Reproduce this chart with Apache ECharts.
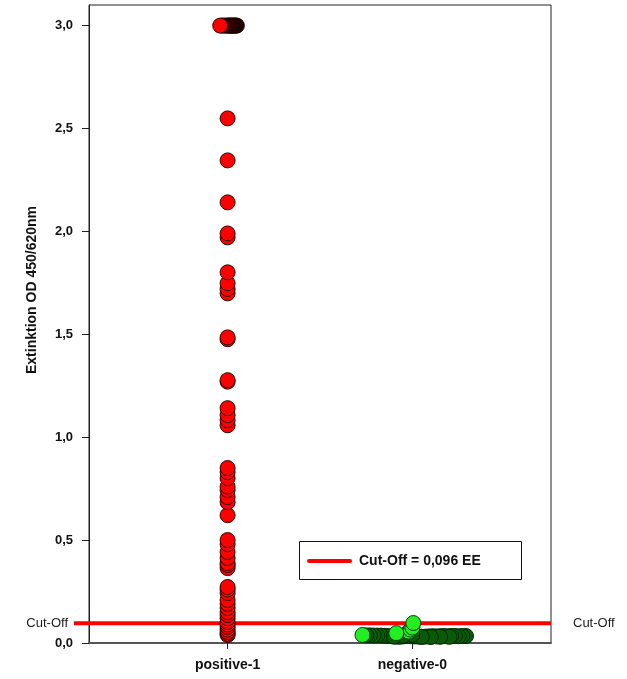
<!DOCTYPE html>
<html>
<head>
<meta charset="utf-8">
<script src="https://cdn.jsdelivr.net/npm/echarts@6/dist/echarts.min.js"></script>
<style>html,body{margin:0;padding:0;background:#fff}#c{width:627px;height:679px}</style>
</head>
<body>
<div id="c"></div>
<script>
// ---- data ----
const categories = ['positive-1', 'negative-0'];
const categoryX = [0, 1];
const yTicks = [0, 0.5, 1.0, 1.5, 2.0, 2.5, 3.0];
const cutOff = 0.096;

// positive group, single column
const positiveValues = [2.549, 2.345, 2.141, 1.990, 1.971, 1.801, 1.748, 1.720, 1.699, 1.485, 1.476,
  1.277, 1.270, 1.141, 1.107, 1.083, 1.058, 0.850, 0.830, 0.801, 0.760, 0.743, 0.709, 0.684, 0.621,
  0.500, 0.480, 0.442, 0.413, 0.388, 0.379, 0.364, 0.272, 0.260, 0.243, 0.209, 0.190, 0.170, 0.150,
  0.136, 0.120, 0.102, 0.090, 0.078, 0.065, 0.053, 0.045, 0.039];
// positive values saturated at 3,0 (stacked, offset sideways)
const positiveTopX = [0.05, 0.045, 0.04, 0.035, 0.03, 0.025, 0.02, 0.015, 0.01, 0.005, 0.0, -0.01, -0.02, -0.03];
const positiveTopValues = [3.0, 3.0, 3.0, 3.0, 3.0, 3.0, 3.0, 3.0, 3.0, 3.0, 3.0, 3.0, 3.0, 3.0];
const positiveFront = [[-0.04, 3.0]];

// negative group (dense band, offsets sideways)
const negativeX = [0.29, 0.27, 0.25, 0.23, 0.21, 0.19, 0.17, 0.15, 0.13, 0.11, 0.09, 0.07, 0.05, 0.03,
  0.01, -0.01, -0.03, -0.05, -0.07, -0.09, -0.11, -0.13, -0.15, -0.17, -0.19, -0.21, -0.23, -0.25,
  0.2, 0.15, 0.1, 0.05, 0.0, -0.05, -0.1];
const negativeValues = [0.034, 0.034, 0.033, 0.034, 0.034, 0.033, 0.034, 0.033, 0.032, 0.033, 0.032, 0.031,
  0.030, 0.031, 0.032, 0.033, 0.034, 0.032, 0.030, 0.031, 0.033, 0.034, 0.035, 0.036, 0.036, 0.036, 0.037, 0.037,
  0.030, 0.030, 0.029, 0.030, 0.040, 0.035, 0.031];
const negativeBrightX = [-0.27, -0.02, -0.01, 0.0, -0.087, 0.005];
const negativeBrightValues = [0.039, 0.055, 0.065, 0.075, 0.048, 0.097];

const zip = (xs, ys, base) => xs.map((x, i) => [base + x, ys[i]]);
const fmt = v => v.toFixed(1).replace('.', ',');

const chart = echarts.init(document.getElementById('c'), null, {renderer: 'canvas'});
const textColor = '#111';
const ff = 'Liberation Sans, Arial, sans-serif';

const sym = (fill, border) => ({
  type: 'scatter', symbol: 'circle', symbolSize: 15, silent: true, animation: false, z: 5,
  itemStyle: {color: fill, borderColor: border, borderWidth: 1, opacity: 1}
});

chart.setOption({
  animation: false,
  grid: {left: 89, top: 5, width: 462, height: 638, show: true, borderColor: '#222', borderWidth: 1, backgroundColor: 'transparent'},
  xAxis: {
    type: 'value', min: -0.75, max: 1.75, interval: 0.25,
    splitLine: {show: false},
    axisLine: {show: true, onZero: false, lineStyle: {color: '#555', width: 2}},
    axisTick: {show: true, customValues: categoryX, length: 6, lineStyle: {color: '#222'}},
    axisLabel: {show: true, customValues: categoryX, formatter: v => categories[Math.round(v)] || '',
      color: textColor, fontWeight: 'bold', fontSize: 14, fontFamily: ff, margin: 15}
  },
  yAxis: {
    type: 'value', min: 0, max: 3.1, interval: 0.5,
    splitLine: {show: false},
    axisLine: {show: true, onZero: false, lineStyle: {color: '#222', width: 1}},
    axisTick: {show: true, customValues: yTicks, length: 7, lineStyle: {color: '#222'}},
    axisLabel: {show: true, customValues: yTicks, formatter: fmt, color: textColor, fontWeight: 'bold', fontSize: 13, fontFamily: ff, margin: 16}
  },
  series: [
    Object.assign(sym('#ff0000', '#2a0000'), {data: positiveValues.map(v => [categoryX[0], v]).reverse()}),
    Object.assign(sym('#4a0000', '#1a0000'), {data: zip(positiveTopX, positiveTopValues, categoryX[0])}),
    Object.assign(sym('#ff0000', '#2a0000'), {data: positiveFront.map(p => [categoryX[0] + p[0], p[1]])}),
    Object.assign(sym('#0a5a0a', '#022a02'), {data: zip(negativeX, negativeValues, categoryX[1])}),
    Object.assign(sym('#22ee22', '#0a3a0a'), {data: zip(negativeBrightX, negativeBrightValues, categoryX[1])})
  ]
});

// cut-off line and labels
const yc = chart.convertToPixel({yAxisIndex: 0}, cutOff);
const xr = chart.convertToPixel({xAxisIndex: 0}, 1.75);
chart.setOption({
  graphic: [
    {type: 'line', z: 1, zlevel: 0, shape: {x1: 74, y1: yc, x2: xr, y2: yc}, style: {stroke: '#ff0000', lineWidth: 4}},
    {type: 'text', x: 68, y: yc, style: {text: 'Cut-Off', align: 'right', verticalAlign: 'middle', fill: '#1a1a1a', font: '13px ' + ff}},
    {type: 'text', x: 573, y: yc, style: {text: 'Cut-Off', align: 'left', verticalAlign: 'middle', fill: '#1a1a1a', font: '13px ' + ff}},
    {type: 'rect', z: 100, shape: {x: 299.5, y: 541.5, width: 222, height: 38}, style: {fill: '#fff', stroke: '#111', lineWidth: 1}},
    {type: 'line', z: 101, shape: {x1: 309, y1: 561, x2: 350, y2: 561}, style: {stroke: '#ff0000', lineWidth: 4, lineCap: 'round'}},
    {type: 'text', z: 101, x: 359, y: 561, style: {text: 'Cut-Off = ' + String(cutOff).replace('.', ',') + ' EE', align: 'left', verticalAlign: 'middle', fill: '#111', font: 'bold 14px ' + ff}},
    {type: 'text', x: 32, y: 290, rotation: Math.PI / 2, style: {text: 'Extinktion OD 450/620nm', align: 'center', verticalAlign: 'middle', fill: '#111', font: 'bold 14px ' + ff}}
  ]
});
</script>
</body>
</html>
